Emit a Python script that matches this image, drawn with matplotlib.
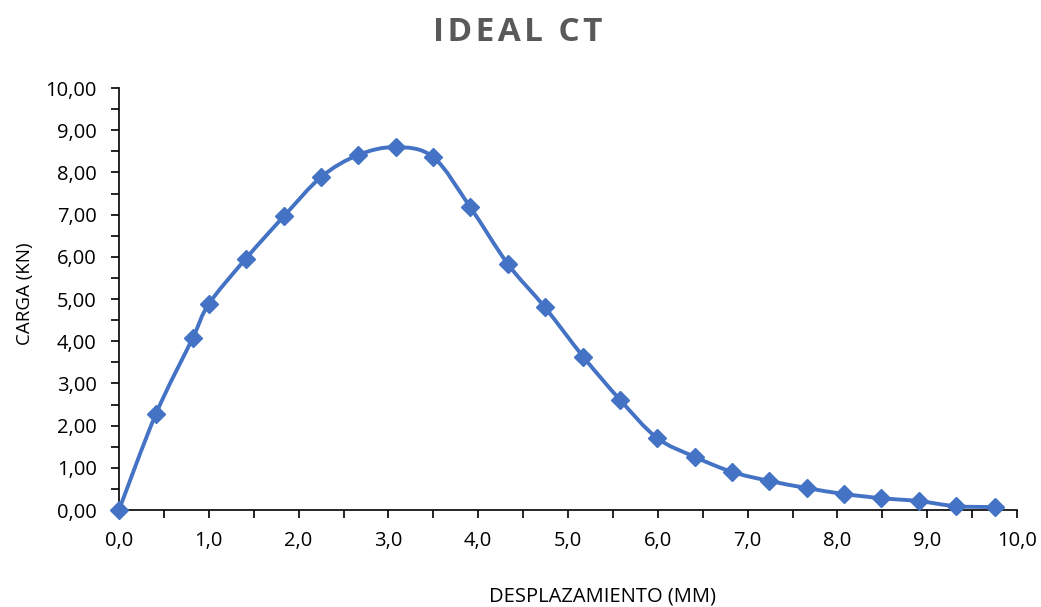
import numpy as np
import matplotlib.pyplot as plt
from matplotlib.path import Path
from matplotlib.patches import PathPatch
from matplotlib.ticker import MultipleLocator, FuncFormatter

# displacement (mm) and load (kN)
desplazamiento = [0.00, 0.41, 0.82, 1.00, 1.41, 1.84, 2.25, 2.66, 3.08, 3.50,
                  3.91, 4.33, 4.74, 5.17, 5.58, 5.99, 6.41, 6.83, 7.24, 7.66,
                  8.07, 8.49, 8.91, 9.32, 9.75]
carga = [0.00, 2.27, 4.07, 4.88, 5.95, 6.97, 7.89, 8.41, 8.60, 8.36,
         7.18, 5.83, 4.81, 3.63, 2.61, 1.71, 1.26, 0.90, 0.69, 0.52,
         0.38, 0.28, 0.21, 0.09, 0.07]

azul = '#4472C4'
plt.rcParams['font.family'] = ['Open Sans', 'DejaVu Sans']


def smooth_path(x, y, t=1.0 / 6):
    # bezier segments through the points (like a spreadsheet "smoothed line")
    x = np.asarray(x, float)
    y = np.asarray(y, float)
    verts = [(x[0], y[0])]
    codes = [Path.MOVETO]
    n = len(x)
    for i in range(n - 1):
        x0, y0 = (x[i - 1], y[i - 1]) if i > 0 else (x[i], y[i])
        x3, y3 = (x[i + 2], y[i + 2]) if i + 2 < n else (x[i + 1], y[i + 1])
        c1 = (x[i] + (x[i + 1] - x0) * t, y[i] + (y[i + 1] - y0) * t)
        c2 = (x[i + 1] - (x3 - x[i]) * t, y[i + 1] - (y3 - y[i]) * t)
        verts += [c1, c2, (x[i + 1], y[i + 1])]
        codes += [Path.CURVE4] * 3
    return Path(verts, codes)


fig = plt.figure(figsize=(10.41, 6.07), dpi=100)
ax = fig.add_axes([0.1143, 0.1598, 0.8627, 0.6952])

ax.add_patch(PathPatch(smooth_path(desplazamiento, carga), facecolor='none',
                       edgecolor=azul, lw=2.8, capstyle='round', zorder=3))
ax.plot(desplazamiento, carga, linestyle='none', marker='D', ms=9.5,
        color=azul, zorder=4, clip_on=False)

ax.set_xlim(0, 10)
ax.set_ylim(0, 10)
ax.xaxis.set_major_locator(MultipleLocator(1))
ax.xaxis.set_minor_locator(MultipleLocator(0.5))
ax.yaxis.set_major_locator(MultipleLocator(1))
ax.yaxis.set_minor_locator(MultipleLocator(0.5))
ax.xaxis.set_major_formatter(FuncFormatter(lambda v, p: f'{v:.1f}'.replace('.', ',')))
ax.yaxis.set_major_formatter(FuncFormatter(lambda v, p: f'{v:.2f}'.replace('.', ',')))
ax.tick_params(which='both', direction='out', length=6, width=1.2, color='black')
ax.tick_params(which='major', labelsize=14.5, colors='black')
ax.tick_params(axis='x', pad=9)
ax.tick_params(axis='y', pad=10)

for s in ['top', 'right']:
    ax.spines[s].set_visible(False)
for s in ['left', 'bottom']:
    ax.spines[s].set_linewidth(1.2)
    ax.spines[s].set_color('black')

# title with a little letter spacing (hair spaces)
titulo = '\u200a'.join('IDEAL CT')
fig.text(0.497, 0.947, titulo, ha='center', va='center',
         fontsize=24, fontweight='bold', color='#595959')
fig.text(0.579, 0.0165, 'DESPLAZAMIENTO (MM)', ha='center', va='center', fontsize=14.5)
fig.text(0.024, 0.516, 'CARGA (KN)', ha='center', va='center', fontsize=13.5, rotation=90)

fig.savefig('out.png', dpi=100)
